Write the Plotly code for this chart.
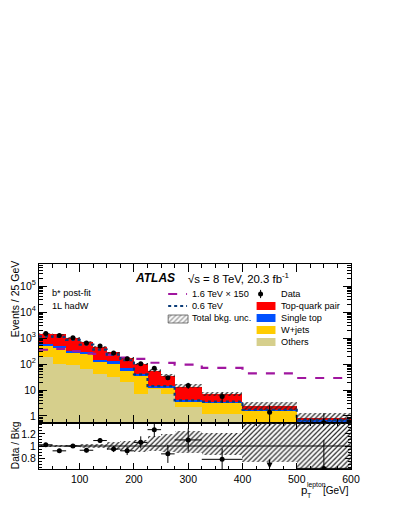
import numpy as np
import plotly.graph_objects as go

# bin edges in lepton pT [GeV]
edges = [25, 50, 75, 100, 125, 150, 175, 200, 225, 250, 275, 325, 400, 500, 600]

# background yields per bin
others = [182, 100, 95, 65, 40, 32, 21, 6.9, 11.2, 6.9, 2.3, 1.17, 0.32, 0.25]
wjets = [331, 347, 187, 180, 77, 68, 34, 28, 1.4, 5.7, 1.2, 2.0, 1.23, 0.38]
single_top = [90, 66, 49, 50, 31, 26, 14, 5, 1.5, 1.5, 0.5, 0.4, 0.19, 0.08]
ttbar = [876, 867, 692, 397, 299, 156, 105, 58, 40, 20, 9.5, 3.6, 0.66, 0.14]
# relative total background uncertainty (lower / upper)
unc_lo = [0.98, 0.98, 0.98, 0.97, 0.97, 0.93, 0.91, 0.90, 0.92, 0.90, 0.88, 0.85, 0.74, 0.50]
unc_hi = [1.02, 1.02, 1.02, 1.03, 1.04, 1.06, 1.08, 1.10, 1.16, 1.20, 1.25, 1.22, 1.45, 1.50]

# signals
sig_1600_x150 = [355, 380, 316, 251, 245, 224, 178, 158, 112, 110, 95, 71, 44, 29]
sig_600 = [1150, 1100, 850, 560, 360, 230, 140, 40, 14, 14, 4.0, 3.6, 1.74, 0.71]

# data
data = [1510, 1260, 1020, 645, 490, 268, 160, 103, 69, 29.5, 15, 5.6, 1.4, 0.55]
data_err = [39, 35, 32, 25, 22, 16, 13, 10, 8.3, 5.4, 3.9, 2.4, 1.2, 0.74]
ratio = [1.02, 0.92, 1.0, 0.93, 1.09, 0.95, 0.92, 1.06, 1.27, 0.87, 1.10, 0.78, 0.55, 0.63]
ratio_err = [0.02, 0.025, 0.03, 0.035, 0.04, 0.05, 0.07, 0.10, 0.12, 0.15, 0.19, 0.18, 0.6, 0.47]

edges = np.array(edges, dtype=float)
centers = 0.5 * (edges[1:] + edges[:-1])
widths = np.diff(edges)
half = widths / 2

c_others = "#d6cf8c"
c_wjets = "#ffcc00"
c_stop = "#0050ff"
c_tt = "#ff0000"
c_sig16 = "#a0169f"
c_sig06 = "#0b3c78"
hatch = dict(shape="/", size=3.5, solidity=0.35, fillmode="replace")

fig = go.Figure()

# stacked backgrounds (overlay bars with explicit bases)
base = np.full(len(centers), 0.01)
for vals, col in [(others, c_others), (wjets, c_wjets), (single_top, c_stop), (ttbar, c_tt)]:
    vals = np.array(vals, dtype=float)
    fig.add_trace(go.Bar(x=centers, y=vals, base=base, width=widths, marker_color=col,
                         marker_line_width=0, xaxis="x", yaxis="y", showlegend=False))
    base = base + vals
total = base - 0.01

# total bkg uncertainty hatch
lo = total * np.array(unc_lo)
hi = total * np.array(unc_hi)
fig.add_trace(go.Bar(x=centers, y=hi - lo, base=lo, width=widths,
                     marker=dict(color="#222", line_width=0, pattern=hatch),
                     xaxis="x", yaxis="y", showlegend=False))


def step(vals):
    return list(edges), list(vals) + [vals[-1]]


sx, sy = step(sig_1600_x150)
fig.add_trace(go.Scatter(x=sx, y=sy, mode="lines", line=dict(color=c_sig16, width=2.2, dash="dash", shape="hv"),
                         xaxis="x", yaxis="y", showlegend=False))
sx, sy = step(sig_600)
fig.add_trace(go.Scatter(x=sx, y=sy, mode="lines", line=dict(color=c_sig06, width=2.2, dash="dot", shape="hv"),
                         xaxis="x", yaxis="y", showlegend=False))

fig.add_trace(go.Scatter(x=centers, y=data, mode="markers", marker=dict(color="black", size=5),
                         error_y=dict(type="data", array=data_err, color="black", thickness=1, width=0),
                         xaxis="x", yaxis="y", showlegend=False))

# ratio panel
fig.add_trace(go.Bar(x=centers, y=np.array(unc_hi) - np.array(unc_lo), base=unc_lo, width=widths,
                     marker=dict(color="#222", line_width=0, pattern=hatch),
                     xaxis="x2", yaxis="y2", showlegend=False))
shown = [i for i in range(len(ratio)) if i != 12]
fig.add_trace(go.Scatter(x=centers[shown], y=np.array(ratio)[shown], mode="markers",
                         marker=dict(color="black", size=5),
                         error_y=dict(type="data", array=np.array(ratio_err)[shown], color="black", thickness=1, width=0),
                         error_x=dict(type="data", array=half[shown], color="black", thickness=1, width=0),
                         xaxis="x2", yaxis="y2", showlegend=False))
fig.add_shape(type="line", xref="x2", yref="y2", x0=edges[0], x1=edges[-1], y0=1, y1=1,
              line=dict(color="black", width=1))
fig.add_annotation(x=centers[12], y=0.63, ax=centers[12], ay=0.8, xref="x2", yref="y2",
                   axref="x2", ayref="y2", showarrow=True, arrowhead=2, arrowsize=1, arrowwidth=1.2,
                   arrowcolor="black", text="")

# page layout (the page has an 8 px body margin)
OFF = 8
L = 37; PW = 314; T = 264; B = 469; PH = B - T
px = lambda v: (v - L) / PW
py = lambda v: (B - v) / PH

# legend (drawn by hand on an overlay axis that spans the plot area)
fig.add_trace(go.Scatter(x=[px(167), px(186)], y=[py(294)] * 2, mode="lines",
                         line=dict(color=c_sig16, width=2.2, dash="dash"), xaxis="x3", yaxis="y3", showlegend=False))
fig.add_trace(go.Scatter(x=[px(167), px(186)], y=[py(306)] * 2, mode="lines",
                         line=dict(color=c_sig06, width=2.2, dash="dot"), xaxis="x3", yaxis="y3", showlegend=False))
fig.add_trace(go.Scatter(x=[px(167), px(187), px(187), px(167), px(167)],
                         y=[py(315), py(315), py(323), py(323), py(315)], mode="lines", fill="toself",
                         fillcolor="rgba(0,0,0,0)", line=dict(color="#555", width=0.8),
                         fillpattern=dict(shape="/", size=3.5, solidity=0.35, fgcolor="#222"),
                         xaxis="x3", yaxis="y3", showlegend=False))
fig.add_trace(go.Scatter(x=[px(260)], y=[py(294)], mode="markers", marker=dict(color="black", size=5),
                         error_y=dict(type="constant", value=0.02, color="black", thickness=1, width=0),
                         xaxis="x3", yaxis="y3", showlegend=False))
for i, col in enumerate([c_tt, c_stop, c_wjets, c_others]):
    yc = 306 + 12 * i
    fig.add_shape(type="rect", xref="paper", yref="paper", x0=px(256), x1=px(275),
                  y0=py(yc + 4), y1=py(yc - 4), fillcolor=col, line=dict(width=0))

font = "Liberation Sans, Arial, sans-serif"
texts = [
    (189, 294, "1.6 TeV \u00d7 150"), (189, 306, "0.6 TeV"), (189, 318, "Total bkg. unc."),
    (279, 294, "Data"), (279, 306, "Top-quark pair"), (279, 318, "Single top"),
    (279, 330, "W+jets"), (279, 342, "Others"),
    (48, 293, "b* post-fit"), (48, 306, "1L hadW"),
]
for x, y, t in texts:
    fig.add_annotation(x=px(x), y=py(y), xref="paper", yref="paper", text=t, showarrow=False,
                       xanchor="left", yanchor="middle", font=dict(family=font, size=9.2, color="black"))

fig.add_annotation(x=px(132), y=py(278), xref="paper", yref="paper", text="<b><i>ATLAS</i></b>",
                   showarrow=False, xanchor="left", yanchor="middle", font=dict(family=font, size=12, color="black"))
fig.add_annotation(x=px(185), y=py(278), xref="paper", yref="paper",
                   text="\u221as = 8 TeV, 20.3 fb<sup>-1</sup>",
                   showarrow=False, xanchor="left", yanchor="middle", font=dict(family=font, size=11.4, color="black"))
fig.add_annotation(x=px(13), y=py(299), xref="paper", yref="paper", text="Events / 25 GeV", textangle=-90,
                   showarrow=False, xanchor="center", yanchor="middle", font=dict(family=font, size=10.5, color="black"))
fig.add_annotation(x=px(13), y=py(445), xref="paper", yref="paper", text="Data / Bkg", textangle=-90,
                   showarrow=False, xanchor="center", yanchor="middle", font=dict(family=font, size=10.2, color="black"))
# x-axis title: p, subscript T, superscript lepton, [GeV]
for x, y, t, s, anc in [(299, 490, "p", 11.5, "left"), (305, 485, "lepton", 6.8, "left"),
                        (305, 495, "T", 7, "left"), (351, 490, "[GeV]", 10, "right")]:
    fig.add_annotation(x=px(x), y=py(y), xref="paper", yref="paper", text=t, showarrow=False,
                       xanchor=anc, yanchor="middle", font=dict(family=font, size=s, color="black"))

split = (B - 423) / PH
axis_common = dict(showline=True, linecolor="black", linewidth=1, mirror="allticks", ticks="inside",
                   tickcolor="black", showgrid=False, zeroline=False,
                   tickfont=dict(family=font, size=10.5, color="black"))

W = 399 - OFF
H = 516 - OFF
fig.update_layout(
    width=W, height=H,
    margin=dict(l=L - OFF, r=W - (L - OFF) - PW, t=T - OFF, b=H - (B - OFF)),
    paper_bgcolor="white", plot_bgcolor="rgba(0,0,0,0)",
    barmode="overlay", bargap=0,
    xaxis=dict(domain=[0, 1], anchor="y", range=[25, 600], showticklabels=False, ticklen=8,
               tickvals=[100, 200, 300, 400, 500, 600],
               minor=dict(dtick=25, tick0=0, ticks="inside", ticklen=4, tickcolor="black"), **axis_common),
    yaxis=dict(domain=[split, 1], anchor="x", type="log", range=[-0.27, 5.85], ticklen=8,
               tickvals=[1, 10, 100, 1e3, 1e4, 1e5],
               ticktext=["1", "10", "10<sup>2</sup>", "10<sup>3</sup>", "10<sup>4</sup>", "10<sup>5</sup>"],
               minor=dict(dtick="D1", ticks="inside", ticklen=4, tickcolor="black"), **axis_common),
    xaxis2=dict(domain=[0, 1], anchor="y2", range=[25, 600], ticklen=6,
                tickvals=[100, 200, 300, 400, 500, 600],
                minor=dict(dtick=25, tick0=0, ticks="inside", ticklen=3, tickcolor="black"), **axis_common),
    yaxis2=dict(domain=[0, split], anchor="x2", range=[0.62, 1.38], ticklen=6,
                tickvals=[0.8, 1.0, 1.2], ticktext=["0.8", "1", "1.2"],
                minor=dict(dtick=0.05, ticks="inside", ticklen=3, tickcolor="black"), **axis_common),
    xaxis3=dict(domain=[0, 1], anchor="y3", range=[0, 1], visible=False),
    yaxis3=dict(domain=[0, 1], anchor="x3", range=[0, 1], visible=False),
)

fig.write_html("out.html")
